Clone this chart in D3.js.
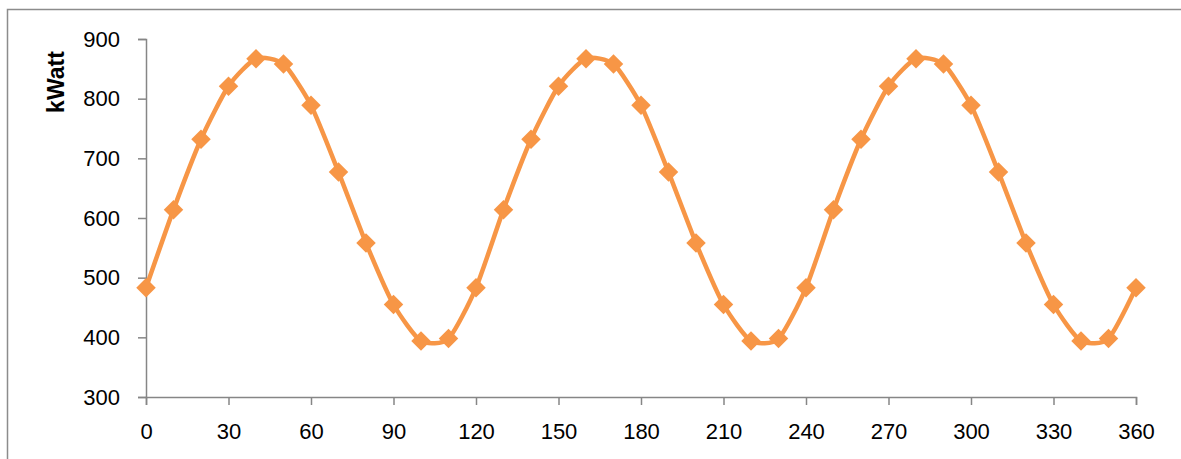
<!DOCTYPE html>
<html>
<head>
<meta charset="utf-8">
<script src="https://cdn.jsdelivr.net/npm/d3@7"></script>
<style>
  body { margin: 0; background: #fff; }
  svg { display: block; }
</style>
</head>
<body>
<svg id="chart" width="1181" height="459"></svg>
<script>
// angle in degrees, power in kWatt
const angles = [0, 10, 20, 30, 40, 50, 60, 70, 80, 90, 100, 110,
                120, 130, 140, 150, 160, 170, 180, 190, 200, 210, 220, 230,
                240, 250, 260, 270, 280, 290, 300, 310, 320, 330, 340, 350, 360];
const power = [483, 614, 732, 821, 867, 858, 789, 677, 558, 455, 394, 398,
               483, 614, 732, 821, 867, 858, 789, 677, 558, 455, 394, 398,
               483, 614, 732, 821, 867, 858, 789, 677, 558, 455, 394, 398, 483];
const xTicks = [0, 30, 60, 90, 120, 150, 180, 210, 240, 270, 300, 330, 360];
const yTicks = [300, 400, 500, 600, 700, 800, 900];
const yLabel = "kWatt";

const svg = d3.select("#chart");
const axisColor = "#868686";
const orange = "#F79646";
const font = "'Liberation Sans', Arial, sans-serif";

// chart frame
svg.append("path")
    .attr("d", "M7.5,459 L7.5,9.5 L1181,9.5")
    .attr("fill", "none").attr("stroke", "#8c8c8c").attr("stroke-width", 1.5);

const x = d3.scaleLinear().domain([0, 360]).range([146, 1136]);
const y = d3.scaleLinear().domain([300, 900]).range([397, 39]);

// y axis
const yAxis = svg.append("g").attr("transform", "translate(146,0)")
    .call(d3.axisLeft(y).tickValues(yTicks).tickSize(8).tickPadding(18));
yAxis.select(".domain").attr("stroke", axisColor).attr("stroke-width", 1.5);
yAxis.selectAll(".tick line").attr("stroke", axisColor).attr("stroke-width", 1.5);
yAxis.selectAll(".tick text").attr("fill", "#000").attr("font-family", font).attr("font-size", 22);

// x axis
const xAxis = svg.append("g").attr("transform", "translate(0,397)")
    .call(d3.axisBottom(x).tickValues(xTicks).tickSize(8).tickPadding(18));
xAxis.select(".domain").attr("stroke", axisColor).attr("stroke-width", 1.5);
xAxis.selectAll(".tick line").attr("stroke", axisColor).attr("stroke-width", 1.5);
xAxis.selectAll(".tick text").attr("fill", "#000").attr("font-family", font).attr("font-size", 22);

// axis title
svg.append("text")
    .attr("transform", "translate(64,82) rotate(-90)")
    .attr("text-anchor", "middle")
    .attr("font-family", font).attr("font-weight", "bold").attr("font-size", 23)
    .attr("fill", "#000")
    .text(yLabel);

const data = angles.map((a, i) => ({ a: a, p: power[i] }));

const line = d3.line()
    .x(d => x(d.a)).y(d => y(d.p))
    .curve(d3.curveCardinal.tension(0.35));

svg.append("path").datum(data)
    .attr("d", line)
    .attr("fill", "none").attr("stroke", orange).attr("stroke-width", 4.5)
    .attr("stroke-linejoin", "round");

svg.append("g").selectAll("path").data(data).enter().append("path")
    .attr("d", d3.symbol().type(d3.symbolSquare).size(190))
    .attr("transform", d => `translate(${x(d.a)},${y(d.p)}) rotate(45)`)
    .attr("fill", orange);
</script>
</body>
</html>
